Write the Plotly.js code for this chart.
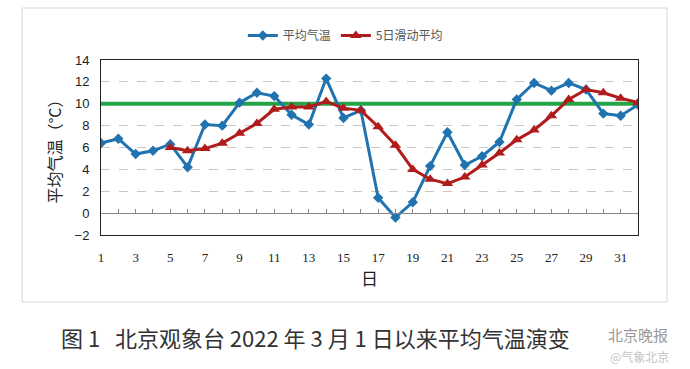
<!DOCTYPE html>
<html><head><meta charset="utf-8">
<script src="https://cdn.plot.ly/plotly-3.0.1.min.js"></script>
<style>html,body{margin:0;padding:0;background:#fff}#c{width:690px;height:369px}</style>
</head><body><div id="c"></div>
<script>
const days = [1,2,3,4,5,6,7,8,9,10,11,12,13,14,15,16,17,18,19,20,21,22,23,24,25,26,27,28,29,30,31,32];
const meanTemp = [6.4,6.8,5.4,5.7,6.3,4.2,8.1,8.0,10.1,11.0,10.7,9.0,8.1,12.3,8.7,9.4,1.4,-0.4,1.0,4.3,7.4,4.4,5.2,6.5,10.4,11.9,11.2,11.9,11.3,9.1,8.9,9.9];
const movingAvg = [null,null,null,null,6.0,5.7,5.9,6.4,7.3,8.2,9.5,9.7,9.7,10.2,9.6,9.4,7.9,6.2,4.0,3.1,2.7,3.3,4.4,5.5,6.7,7.6,8.9,10.4,11.3,11.0,10.5,10.1];
const thresholdDays = [1,32];
const thresholdVals = [10,10];
const xTickVals = [1,3,5,7,9,11,13,15,17,19,21,23,25,27,29,31];
const names = ['平均气温','5日滑动平均'];

const traces = [
  {x: thresholdDays, y: thresholdVals, mode:'lines', line:{color:'#22a447', width:4}, showlegend:false, hoverinfo:'skip'},
  {x: days, y: meanTemp, name: names[0], mode:'lines+markers', line:{color:'#2173b0', width:3},
   marker:{symbol:'diamond', size:8, color:'#2173b0'}},
  {x: days, y: movingAvg, name: names[1], mode:'lines+markers', line:{color:'#b01c1c', width:3},
   marker:{symbol:'triangle-up', size:10, color:'#b01c1c'}},
  {x:[1], y:[null], xaxis:'x2', mode:'lines', showlegend:false, hoverinfo:'skip'}
];

const layout = {
  width:690, height:369,
  margin:{l:101, r:52, t:60, b:134},
  paper_bgcolor:'#fff', plot_bgcolor:'#fff',
  font:{family:'Liberation Sans, Arial, sans-serif', color:'#222'},
  showlegend:true,
  legend:{orientation:'h', x:0.455, xanchor:'center', y:1.14, yanchor:'middle',
          font:{family:'Noto Sans CJK SC', size:12, color:'#555'}, itemwidth:30, bgcolor:'rgba(0,0,0,0)'},
  xaxis:{range:[1,32], tickvals:xTickVals, showgrid:false, zeroline:false,
         showline:true, mirror:true, linecolor:'#222', linewidth:1,
         ticks:'outside', ticklen:10, tickcolor:'rgba(0,0,0,0)',
         tickfont:{family:'Liberation Serif, serif', size:13, color:'#222'},
         title:{text:'日', font:{family:'Noto Sans CJK SC', size:17, color:'#222'}, standoff:8}},
  xaxis2:{range:[1,32], overlaying:'x', anchor:'free', position:0.125, dtick:1, tick0:1,
          showgrid:false, zeroline:false, showline:true, linecolor:'#888', linewidth:1,
          ticks:'inside', ticklen:4, tickcolor:'#888', showticklabels:false},
  yaxis:{range:[-2,14], dtick:2, showgrid:true, gridcolor:'#c8c8c8', griddash:'dash', gridwidth:1,
         zeroline:false, showline:true, mirror:true, linecolor:'#222', linewidth:1,
         ticks:'outside', ticklen:8, tickcolor:'rgba(0,0,0,0)',
         tickfont:{family:'Liberation Sans, Arial, sans-serif', size:13, color:'#222'},
         title:{text:'平均气温（°C）', font:{family:'Noto Sans CJK SC', size:16, color:'#222'}, standoff:8}},
  shapes:[
    {type:'rect', xref:'paper', yref:'paper', x0:-0.147, x1:1.054, y0:-0.383, y1:1.297,
     line:{color:'#d6d6d6', width:1}, fillcolor:'rgba(0,0,0,0)', layer:'below'}
  ],
  annotations:[
    {xref:'paper', yref:'paper', x:-0.079, y:-0.583, xanchor:'left', yanchor:'middle', showarrow:false,
     text:'图 1   北京观象台 2022 年 3 月 1 日以来平均气温演变',
     font:{family:'Noto Sans CJK SC', size:22, color:'#333'}},
    {xref:'paper', yref:'paper', x:0.94, y:-0.57, xanchor:'left', yanchor:'middle', showarrow:false,
     text:'北京晚报', font:{family:'Noto Sans CJK SC', size:15, color:'#999'}},
    {xref:'paper', yref:'paper', x:0.945, y:-0.695, xanchor:'left', yanchor:'middle', showarrow:false,
     text:'@气象北京', font:{family:'Noto Sans CJK SC', size:12, color:'#c4c4c4'}}
  ]
};
Plotly.newPlot('c', traces, layout, {displayModeBar:false, staticPlot:true});
</script></body></html>
